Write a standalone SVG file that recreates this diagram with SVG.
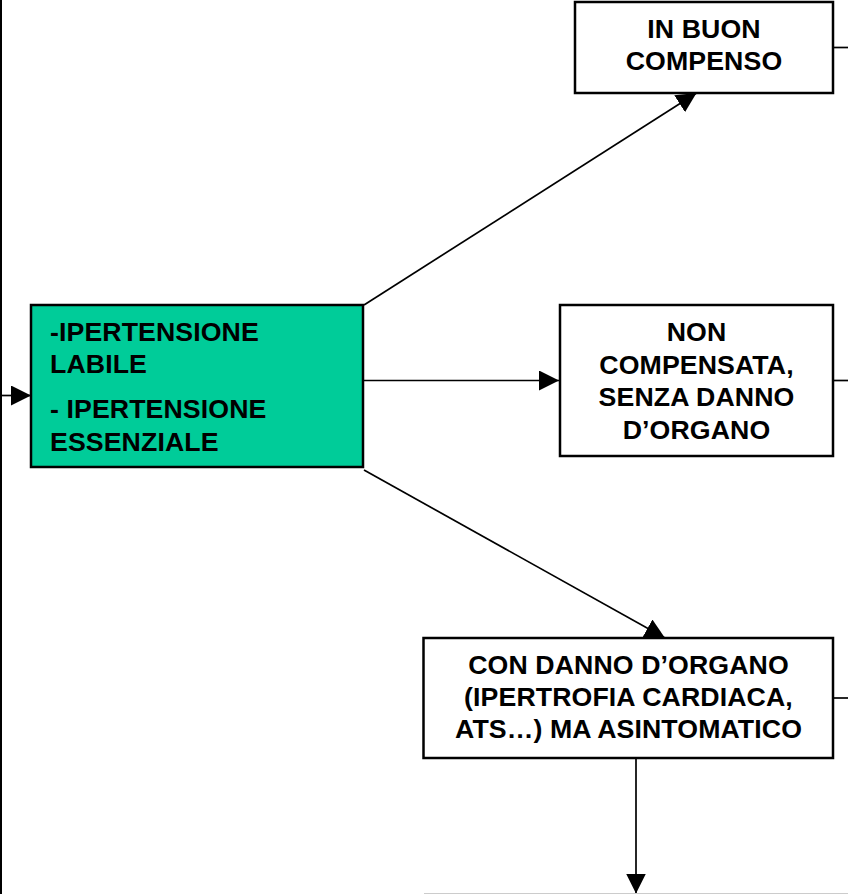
<svg xmlns="http://www.w3.org/2000/svg" width="848" height="894" viewBox="0 0 848 894">
<style>
.box{fill:#ffffff;stroke:#000000;stroke-width:2.5}
.green{fill:#00CC99}
.t{font-family:"Liberation Sans",Arial,sans-serif;font-weight:bold;font-size:26.7px;letter-spacing:0.1px;fill:#000000}
.c{text-anchor:middle}
.ln{stroke:#000000;stroke-width:1.7;fill:none}
</style>
<defs>
<marker id="ah" markerUnits="userSpaceOnUse" markerWidth="20" markerHeight="20" refX="20" refY="10" orient="auto" viewBox="0 0 20 20">
<path d="M0,0 L20,10 L0,20 z" fill="#000000"/>
</marker>
</defs>
<rect width="848" height="894" fill="#ffffff"/>
<g id="connectors">
<line class="ln" x1="1" y1="0" x2="1" y2="894" style="stroke-width:2"/>
<line class="ln" x1="0" y1="395.5" x2="31" y2="395.5" marker-end="url(#ah)"/>
<line class="ln" x1="364" y1="305" x2="696.5" y2="93" marker-end="url(#ah)"/>
<line class="ln" x1="363" y1="380.5" x2="559" y2="380.5" marker-end="url(#ah)"/>
<line class="ln" x1="364" y1="470" x2="665" y2="638" marker-end="url(#ah)"/>
<line class="ln" x1="636" y1="758" x2="636" y2="893.5" marker-end="url(#ah)"/>
<line class="ln" x1="833" y1="47.5" x2="848" y2="47.5"/>
<line class="ln" x1="833" y1="380.5" x2="848" y2="380.5"/>
<line class="ln" x1="833" y1="698" x2="848" y2="698"/>
</g>
<g id="node-ipertensione">
<rect class="box green" x="31" y="305" width="332" height="162"/>
<text class="t" x="50" y="341">-IPERTENSIONE</text>
<text class="t" x="50" y="373">LABILE</text>
<text class="t" x="50" y="418">- IPERTENSIONE</text>
<text class="t" x="50" y="450.5">ESSENZIALE</text>
</g>
<g id="node-buon-compenso">
<rect class="box" x="575" y="2" width="258" height="91"/>
<text class="t c" x="704" y="37.5">IN BUON</text>
<text class="t c" x="704" y="70">COMPENSO</text>
</g>
<g id="node-non-compensata">
<rect class="box" x="560" y="305" width="273" height="151"/>
<text class="t c" x="696.5" y="341">NON</text>
<text class="t c" x="696.5" y="373.5">COMPENSATA,</text>
<text class="t c" x="696.5" y="406">SENZA DANNO</text>
<text class="t c" x="696.5" y="438.5">D’ORGANO</text>
</g>
<g id="node-danno-organo">
<rect class="box" x="423.5" y="638" width="409.5" height="120"/>
<text class="t c" x="628.5" y="673.5">CON DANNO D’ORGANO</text>
<text class="t c" x="628.5" y="705.5">(IPERTROFIA CARDIACA,</text>
<text class="t c" x="628.5" y="738">ATS…) MA ASINTOMATICO</text>
</g>
<g id="node-bottom-partial">
<line x1="424" y1="893.5" x2="848" y2="893.5" stroke="#cccccc" stroke-width="1"/>
</g>
</svg>
